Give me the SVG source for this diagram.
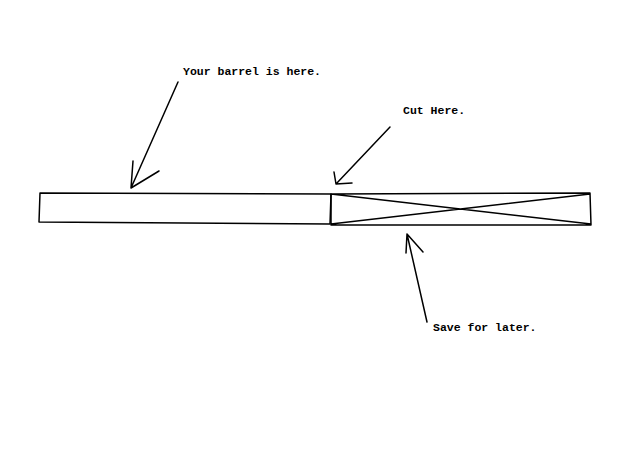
<svg xmlns="http://www.w3.org/2000/svg" width="620" height="465" viewBox="0 0 620 465">
<style>
.s{fill:none;stroke:#000;stroke-width:1.5;stroke-linecap:round;stroke-linejoin:round}
.t{font-family:"Liberation Mono","DejaVu Sans Mono",monospace;font-size:11.5px;font-weight:bold;fill:#000}
</style>
<rect width="620" height="465" fill="#fff"/>
<g id="barrel"><path class="s" d="M40,193 L331,194 L330,224 L39,222 Z"/></g>
<g id="save"><path class="s" d="M331,194 L590,193 L591,225 L331,225 Z M331,194 L591,224 M331,224 L590,194"/></g>
<g id="labels">
<text class="t" x="183" y="75">Your barrel is here.</text>
<text class="t" x="403" y="114">Cut Here.</text>
<text class="t" x="433" y="331">Save for later.</text>
</g>
<g id="connectors">
<path class="s" d="M178,82 L131,188 M133,161 L131,188 L159,171"/>
<path class="s" d="M390,127 L336,184 M334,172 L336,184 L352,183"/>
<path class="s" d="M427,322 L407,234 M406,253 L407,234 L423,252"/>
</g>
</svg>
